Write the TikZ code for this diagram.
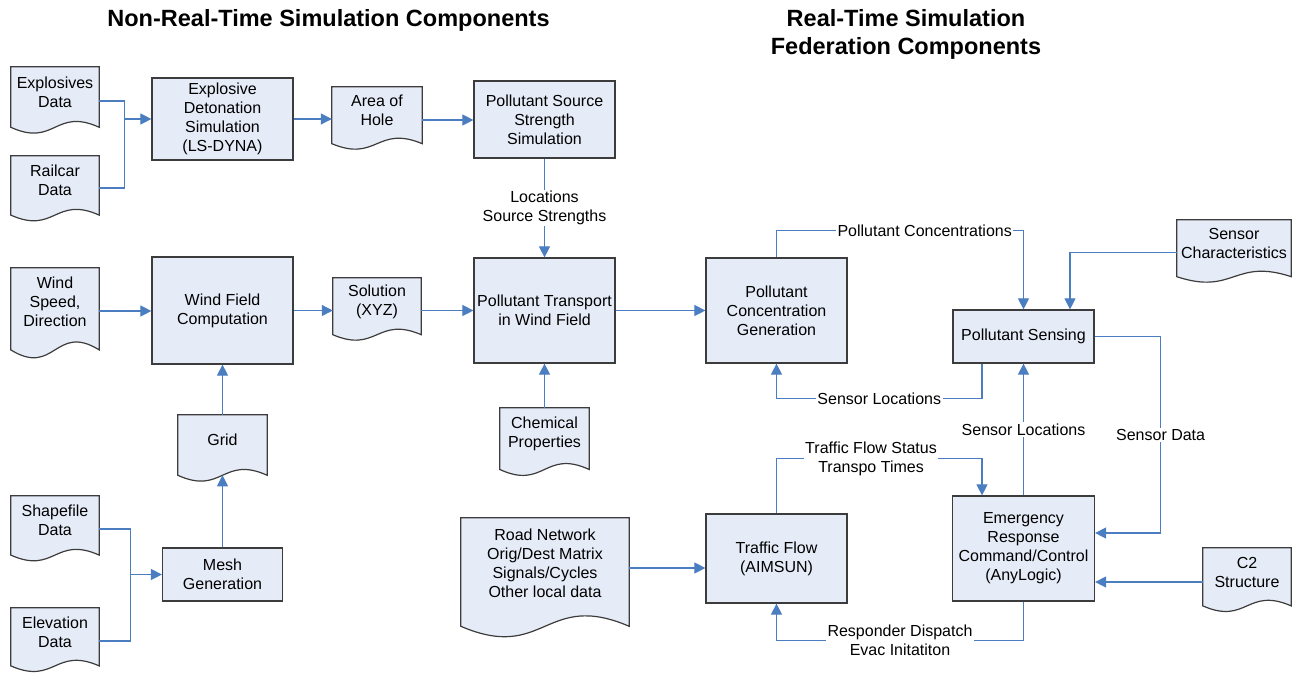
\documentclass[tikz,border=0pt]{standalone}
\usepackage{fontspec}
\setmainfont{Liberation Sans}
\usetikzlibrary{arrows.meta,calc,backgrounds}

\definecolor{boxfill}{RGB}{230,236,247}
\definecolor{boxline}{RGB}{60,60,60}
\definecolor{flowline}{RGB}{74,126,192}

\begin{document}
\begin{tikzpicture}[x=1pt, y=-1pt,
    font=\fontsize{16}{19}\selectfont,
    proc/.style={rectangle, draw=boxline, line width=1.2pt, fill=boxfill, align=center,
                 inner sep=0pt, minimum width=141, minimum height=105},
    docbox/.style={rectangle, align=center, inner sep=0pt, minimum width=88, minimum height=48},
    docline/.style={draw=boxline, line width=1.2pt, fill=boxfill},
    heading/.style={font=\fontsize{23.5}{28}\selectfont\bfseries, align=center},
    flow/.style={draw=flowline, line width=1.1pt},
    feed/.style={flow, -{Triangle[length=11pt, width=11pt]}},
    lbl/.style={fill=white, inner sep=1.5pt, align=center}]

  \useasboundingbox (0,0) rectangle (1296,673);

  % headings
  \node[heading] (nrthead) at (328.5,20) {Non-Real-Time Simulation Components};
  \node[heading] (rthead)  at (906,34)   {Real-Time Simulation\\Federation Components};

  % simulation blocks
  \node[proc, minimum height=82] (detonation) at (222.5,119)   {Explosive\\Detonation\\Simulation\\(LS-DYNA)};
  \node[proc, minimum height=77] (source)     at (544.5,119.5) {Pollutant Source\\Strength\\Simulation};
  \node[proc, minimum height=107] (windfield) at (222.5,310.5) {Wind Field\\Computation};
  \node[proc] (transport)                     at (544.5,310.5) {Pollutant Transport\\in Wind Field};
  \node[proc] (concgen)                       at (776.5,310.5) {Pollutant\\Concentration\\Generation};
  \node[proc, minimum width=120, minimum height=53] (mesh) at (222.5,574.5) {Mesh\\Generation};
  \node[proc, minimum height=89] (traffic)    at (776.5,558.5) {Traffic Flow\\(AIMSUN)};
  \node[proc, minimum height=53] (sensing)    at (1023.5,336.5) {Pollutant Sensing};
  \node[proc, minimum width=142] (emergency)  at (1023.5,548.5) {Emergency\\Response\\Command/Control\\(AnyLogic)};

  % data documents
  \node[docbox, minimum height=50] (explosives) at (55,92)      {Explosives\\Data};
  \node[docbox, minimum height=49] (railcar)    at (55,180.5)   {Railcar\\Data};
  \node[docbox, minimum height=68] (wind)       at (55,302)     {Wind\\Speed,\\Direction};
  \node[docbox, minimum width=90, minimum height=47] (areahole) at (377,110.5) {Area of\\Hole};
  \node[docbox, minimum height=47] (solution)   at (377,301.5)  {Solution\\(XYZ)};
  \node[docbox, minimum width=89, minimum height=50] (grid)     at (222.5,440) {Grid};
  \node[docbox, minimum width=89, minimum height=51] (chemical) at (544.5,433.5) {Chemical\\Properties};
  \node[docbox, minimum height=49] (shapefile)  at (55,520.5)   {Shapefile\\Data};
  \node[docbox] (elevation)                     at (55,632)     {Elevation\\Data};
  \node[docbox, minimum width=168, minimum height=90] (roadnet) at (545,563) {Road Network\\Orig/Dest Matrix\\Signals/Cycles\\Other local data};
  \node[docbox, minimum width=114, minimum height=47] (sensorchar) at (1234,243.5) {Sensor\\Characteristics};
  \node[docbox] (c2)                            at (1247,572)   {C2\\Structure};

  % document outlines with wavy bottom
  \begin{scope}[on background layer]
    \foreach \docname in {explosives,railcar,wind,areahole,solution,grid,chemical,shapefile,elevation,roadnet,sensorchar,c2}
      \draw[docline] let \p1=(\docname.north west), \p2=(\docname.south east),
                         \n1={0.2*(\y1-\y2)}, \n2={0.5*(\x2-\x1)}, \n3={0.4*(\y1-\y2)} in
        (\x1,\y1) -- (\x2,\y1) -- (\x2,\y2-\n1)
        .. controls +(-\n2,\n3) and +(\n2,-\n3) .. (\x1,\y2-\n1) -- cycle;
  \end{scope}

  % non-real-time chain
  \coordinate (joinA) at ($(detonation.west)+(-27,0)$);
  \draw[flow] ([yshift=-9pt]explosives.east) -| (joinA);
  \draw[flow] ([yshift=-7.5pt]railcar.east) -| (joinA);
  \draw[feed] (joinA) -- (detonation.west);
  \draw[feed] (detonation.east) -- (detonation.east -| areahole.west);
  \draw[feed] ([yshift=-9.5pt]areahole.east) -- ([yshift=-9.5pt]areahole.east -| source.west);
  \draw[feed] (source.south) -- node[lbl]{Locations\\Source Strengths} (transport.north);

  \draw[feed] ([yshift=-9pt]wind.east) -- ([yshift=-9pt]wind.east -| windfield.west);
  \draw[feed] (windfield.east) -- (windfield.east -| solution.west);
  \draw[feed] ([yshift=-9pt]solution.east) -- ([yshift=-9pt]solution.east -| transport.west);
  \draw[feed] (transport.east) -- (concgen.west);
  \draw[feed] (grid.north) -- (windfield.south);
  \draw[feed] (mesh.north) -- ($(grid.south)!-0.2!(grid.north)$);

  \coordinate (joinB) at ($(mesh.west)+(-31,0)$);
  \draw[flow] ([yshift=-8.5pt]shapefile.east) -| (joinB);
  \draw[flow] ([yshift=-9pt]elevation.east) -| (joinB);
  \draw[feed] (joinB) -- (mesh.west);

  \draw[feed] (chemical.north) -- (transport.south);
  \draw[feed] ([yshift=-5pt]roadnet.east) -- ([yshift=-5pt]roadnet.east -| traffic.west);

  % real-time federation
  \draw[feed] (concgen.north) |- node[lbl, pos=0.8]{Pollutant Concentrations} ($(sensing.north)+(0,-79)$) -- (sensing.north);
  \draw[feed] ([yshift=-9pt]sensorchar.west) -| ([xshift=46.5pt]sensing.north);
  \draw[feed] ([xshift=-41.5pt]sensing.south) |- node[lbl, pos=0.75]{Sensor Locations} ($(concgen.south)+(0,35)$) -- (concgen.south);
  \draw[feed] (emergency.north) -- node[lbl]{Sensor Locations} (sensing.south);
  \draw[feed] (sensing.east) -- ++(66,0) |- node[lbl, pos=0.25]{Sensor Data} ([yshift=15.5pt]emergency.east);
  \draw[feed] ([yshift=-10pt]c2.west) -- ([yshift=-10pt]c2.west -| emergency.east);
  \draw[feed] (traffic.north) |- node[lbl, pos=0.73]{Traffic Flow Status\\Transpo Times} ($(emergency.north)+(-41.5,-37)$) -- ([xshift=-41.5pt]emergency.north);
  \draw[feed] (emergency.south) |- node[lbl, pos=0.75]{Responder Dispatch\\Evac Initatiton} ($(traffic.south)+(0,37)$) -- (traffic.south);

\end{tikzpicture}
\end{document}
